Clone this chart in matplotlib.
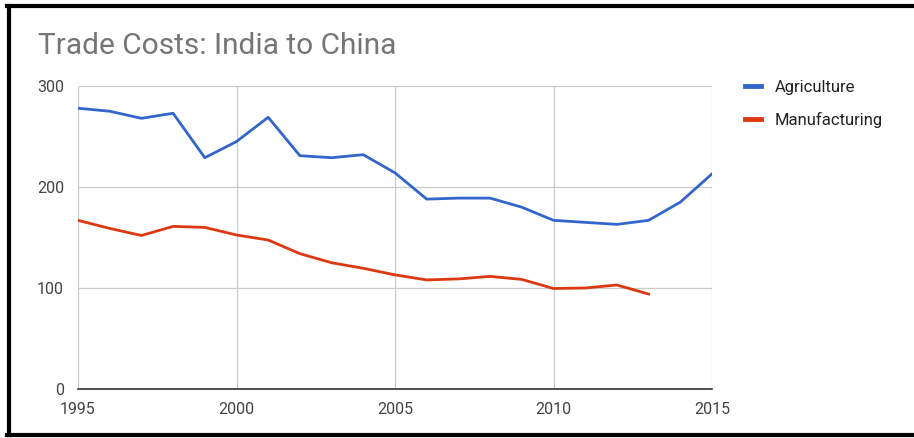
import matplotlib.pyplot as plt
from matplotlib.lines import Line2D

# ---------------------------------------------------------------------------
# Data
# ---------------------------------------------------------------------------
years_agri = list(range(1995, 2016))
agriculture = [278, 275, 268, 273, 229, 245, 269, 231, 229, 232,
               214, 188, 189, 189, 180, 167, 165, 163, 167, 185, 213]

years_manu = list(range(1995, 2014))
manufacturing = [167, 159, 152, 161, 160, 152.5, 147.5, 134, 125, 119.5,
                 113, 108, 109, 111.5, 108.5, 99.5, 100, 103, 94]

x_ticks = [1995, 2000, 2005, 2010, 2015]
y_ticks = [0, 100, 200, 300]

BLUE = "#3366CC"
RED = "#DC3912"

plt.rcParams["font.family"] = ["Roboto", "DejaVu Sans"]

fig = plt.figure(figsize=(9.14, 4.38), dpi=100)
ax = fig.add_axes([78 / 914, 1 - 389 / 438, (712 - 78) / 914, (389 - 86) / 438])

ax.plot(years_agri, agriculture, color=BLUE, lw=2.0, solid_joinstyle="round",
        label="Agriculture")
ax.plot(years_manu, manufacturing, color=RED, lw=2.0, solid_joinstyle="round",
        label="Manufacturing")

ax.set_xlim(1995, 2015)
ax.set_ylim(0, 300)
ax.set_xticks(x_ticks)
ax.set_yticks(y_ticks)
ax.grid(True, color="#cccccc", lw=0.9)
ax.set_axisbelow(True)
for side in ["top", "right", "left"]:
    ax.spines[side].set_visible(False)
ax.spines["bottom"].set_color("#333333")
ax.spines["bottom"].set_linewidth(1.2)
ax.spines["bottom"].set_zorder(3)
ax.tick_params(length=0, labelsize=11.5, labelcolor="#444444")
ax.tick_params(axis="y", pad=10)
ax.tick_params(axis="x", pad=9)

fig.text(38 / 914, 1 - 46 / 438, "Trade Costs: India to China", fontsize=21.5,
         color="#757575", va="center", ha="left")

handles = [Line2D([], [], color=BLUE, lw=3.5), Line2D([], [], color=RED, lw=3.5)]
fig.legend(handles, ["Agriculture", "Manufacturing"], loc="upper left",
           bbox_to_anchor=(730 / 914, 1 - 65 / 438), frameon=False,
           fontsize=12, handlelength=0.95, handletextpad=0.85,
           labelspacing=1.0, labelcolor="#222222")

# black frame (left, top, bottom)
frame = dict(color="black", lw=3, transform=fig.transFigure, clip_on=False)
fig.add_artist(Line2D([8.5 / 914, 8.5 / 914], [1 - 5.5 / 438, 1 - 434.5 / 438], **frame))
fig.add_artist(Line2D([7 / 914, 1], [1 - 5.5 / 438, 1 - 5.5 / 438], **frame))
fig.add_artist(Line2D([7 / 914, 1], [1 - 434.5 / 438, 1 - 434.5 / 438], **frame))

fig.savefig("out.png", dpi=100)
